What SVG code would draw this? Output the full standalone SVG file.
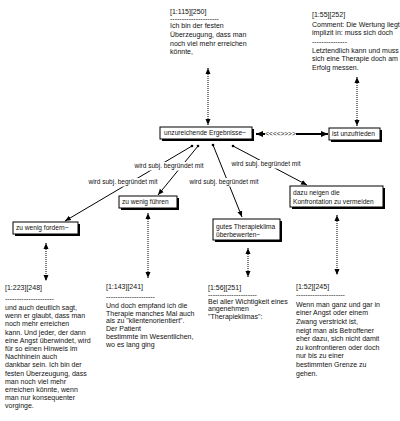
<svg xmlns="http://www.w3.org/2000/svg" width="400" height="421" viewBox="0 0 400 421">
<style>
text{font-family:"Liberation Sans",Arial,sans-serif;fill:#111}
.b{font-size:7px}
.n{font-size:6.6px}
.lbl{font-size:6.5px}
.dot{stroke:#000;stroke-width:1;stroke-dasharray:1,1;fill:none}
.sol{stroke:#000;stroke-width:1;fill:none}
.thk{stroke:#000;stroke-width:2.2;fill:none}
.box{fill:#fff;stroke:#000;stroke-width:1}
.sh{fill:#000}
</style>
<defs>
<marker id="ah" viewBox="0 0 6 6" refX="6" refY="3" markerWidth="6" markerHeight="6" markerUnits="userSpaceOnUse" orient="auto-start-reverse"><path d="M0,0.5 L6,3 L0,5.5 z" fill="#000"/></marker>
<marker id="ahs" viewBox="0 0 7 6" refX="7" refY="3" markerWidth="7" markerHeight="6" markerUnits="userSpaceOnUse" orient="auto-start-reverse"><path d="M0,0 L7,3 L0,6 z" fill="#000"/></marker>
</defs>

<g id="connectors">
<line class="dot" x1="208" y1="68" x2="208" y2="125" marker-start="url(#ah)" marker-end="url(#ah)"/>
<line class="dot" x1="357" y1="77" x2="357" y2="126" marker-start="url(#ah)" marker-end="url(#ah)"/>
<line class="thk" x1="256" y1="134" x2="328" y2="134" marker-start="url(#ahs)" marker-end="url(#ahs)"/>
<rect x="265" y="129" width="31" height="10" fill="#fff"/>
<text class="lbl" x="280.5" y="136.3" text-anchor="middle">&lt;&lt;&lt;&lt;&gt;&gt;&gt;&gt;</text>

<line class="sol" x1="192" y1="146" x2="65" y2="221" marker-end="url(#ah)"/>
<circle cx="192" cy="146" r="1.3"/>
<line class="sol" x1="198" y1="146" x2="158" y2="195" marker-end="url(#ah)"/>
<circle cx="198" cy="146" r="1.3"/>
<line class="sol" x1="213" y1="145" x2="242" y2="217" marker-end="url(#ah)"/>
<circle cx="213" cy="145" r="1.3"/>
<line class="sol" x1="233" y1="146" x2="307" y2="185" marker-end="url(#ah)"/>
<circle cx="233" cy="146" r="1.3"/>

<rect x="87" y="178" width="72" height="8.5" fill="#fff"/>
<text class="lbl" x="123" y="184.3" text-anchor="middle">wird subj. begründet mit</text>
<rect x="137" y="162" width="64" height="8.5" fill="#fff"/>
<text class="lbl" x="169" y="168.3" text-anchor="middle">wird subj. begründet mit</text>
<rect x="188" y="178" width="72" height="8.5" fill="#fff"/>
<text class="lbl" x="224" y="184.3" text-anchor="middle">wird subj. begründet mit</text>
<rect x="230" y="160" width="72" height="8.5" fill="#fff"/>
<text class="lbl" x="266" y="166.3" text-anchor="middle">wird subj. begründet mit</text>

<line class="dot" x1="46" y1="243" x2="46" y2="281" marker-start="url(#ah)" marker-end="url(#ah)"/>
<line class="dot" x1="148" y1="213" x2="148" y2="278" marker-start="url(#ah)" marker-end="url(#ah)"/>
<line class="dot" x1="248" y1="248" x2="248" y2="277" marker-start="url(#ah)" marker-end="url(#ah)"/>
<line class="dot" x1="337" y1="215" x2="337" y2="275" marker-start="url(#ah)" marker-end="url(#ah)"/>
</g>

<g id="q250">
<text class="b" x="170" y="13.5">[1:115][250]</text>
<text class="b" x="170" y="20.8">---------------------</text>
<text class="b" x="170" y="28.4"> Ich bin der festen</text>
<text class="b" x="170" y="37">Überzeugung, dass man</text>
<text class="b" x="170" y="45.6">noch viel mehr erreichen</text>
<text class="b" x="170" y="54.2">könnte,</text>
</g>

<g id="q252">
<text class="b" x="312" y="16.5">[1:55][252]</text>
<text class="b" x="312" y="26.5">Comment: Die Wertung liegt</text>
<text class="b" x="312" y="35">implizit in: muss sich doch</text>
<text class="b" x="312" y="44">---------------</text>
<text class="b" x="312" y="52.7">Letztendlich kann und muss</text>
<text class="b" x="312" y="61.2">sich eine Therapie doch am</text>
<text class="b" x="312" y="69.7">Erfolg messen.</text>
</g>

<g id="n-ergebnisse">
<rect class="sh" x="162" y="129" width="92" height="12"/>
<rect class="box" x="160" y="127" width="92" height="12"/>
<text class="n" x="164" y="135.4">unzureichende Ergebnisse~</text>
</g>

<g id="n-unzufrieden">
<rect class="sh" x="331" y="130" width="51" height="12"/>
<rect class="box" x="329" y="128" width="51" height="12"/>
<text class="n" x="332" y="136.4">ist unzufrieden</text>
</g>

<g id="n-fordern">
<rect class="sh" x="15" y="224" width="65" height="12"/>
<rect class="box" x="13" y="222" width="65" height="12"/>
<text class="n" x="16" y="230.4">zu wenig fordern~</text>
</g>

<g id="n-fuehren">
<rect class="sh" x="121" y="198" width="58" height="12"/>
<rect class="box" x="119" y="196" width="58" height="12"/>
<text class="n" x="122" y="204.4">zu wenig führen</text>
</g>

<g id="n-klima">
<rect class="sh" x="215" y="221" width="67" height="21"/>
<rect class="box" x="213" y="219" width="67" height="21"/>
<text class="n" x="216" y="228.6">gutes Therapieklima</text>
<text class="n" x="216" y="237.2">überbewerten~</text>
</g>

<g id="n-konfrontation">
<rect class="sh" x="292" y="188" width="93" height="21"/>
<rect class="box" x="290" y="186" width="93" height="21"/>
<text class="n" x="293" y="195.2">dazu neigen die</text>
<text class="n" x="293" y="204.2">Konfrontation zu vermeiden</text>
</g>

<g id="q248">
<text class="b" x="5" y="289.7">[1:223][248]</text>
<text class="b" x="5" y="301.3">---------------------</text>
<text class="b" x="5" y="310">und auch deutlich sagt,</text>
<text class="b" x="5" y="318.2">wenn er glaubt, dass man</text>
<text class="b" x="5" y="326.4">noch mehr erreichen</text>
<text class="b" x="5" y="334.6">kann. Und jeder, der dann</text>
<text class="b" x="5" y="342.8">eine Angst überwindet, wird</text>
<text class="b" x="5" y="351">für so einen Hinweis im</text>
<text class="b" x="5" y="359.2">Nachhinein auch</text>
<text class="b" x="5" y="367.4">dankbar sein. Ich bin der</text>
<text class="b" x="5" y="375.6">festen Überzeugung, dass</text>
<text class="b" x="5" y="383.8">man noch viel mehr</text>
<text class="b" x="5" y="392">erreichen könnte, wenn</text>
<text class="b" x="5" y="400.2">man nur konsequenter</text>
<text class="b" x="5" y="408.4">vorginge.</text>
</g>

<g id="q241">
<text class="b" x="106" y="289.4">[1:143][241]</text>
<text class="b" x="106" y="299.3">---------------------</text>
<text class="b" x="106" y="307.7">Und doch empfand ich die</text>
<text class="b" x="106" y="315.5">Therapie manches Mal auch</text>
<text class="b" x="106" y="323.3">als zu "klientenorientiert".</text>
<text class="b" x="106" y="331.1">Der Patient</text>
<text class="b" x="106" y="338.9">bestimmte im Wesentlichen,</text>
<text class="b" x="106" y="346.7">wo es lang ging</text>
</g>

<g id="q251">
<text class="b" x="208" y="289.7">[1:56][251]</text>
<text class="b" x="208" y="297.3">---------------------</text>
<text class="b" x="208" y="303.6">Bei aller Wichtigkeit eines</text>
<text class="b" x="208" y="311.2">angenehmen</text>
<text class="b" x="208" y="318.7">"Therapieklimas":</text>
</g>

<g id="q245">
<text class="b" x="296" y="288.7">[1:52][245]</text>
<text class="b" x="296" y="297.3">---------------------</text>
<text class="b" x="296" y="306.7">Wenn man ganz und gar in</text>
<text class="b" x="296" y="315.3">einer Angst oder einem</text>
<text class="b" x="296" y="323.9">Zwang verstrickt ist,</text>
<text class="b" x="296" y="332.5">neigt man als Betroffener</text>
<text class="b" x="296" y="341.1">eher dazu, sich nicht damit</text>
<text class="b" x="296" y="349.7">zu konfrontieren oder doch</text>
<text class="b" x="296" y="358.3">nur bis zu einer</text>
<text class="b" x="296" y="366.9">bestimmten Grenze zu</text>
<text class="b" x="296" y="375.5">gehen.</text>
</g>
</svg>
